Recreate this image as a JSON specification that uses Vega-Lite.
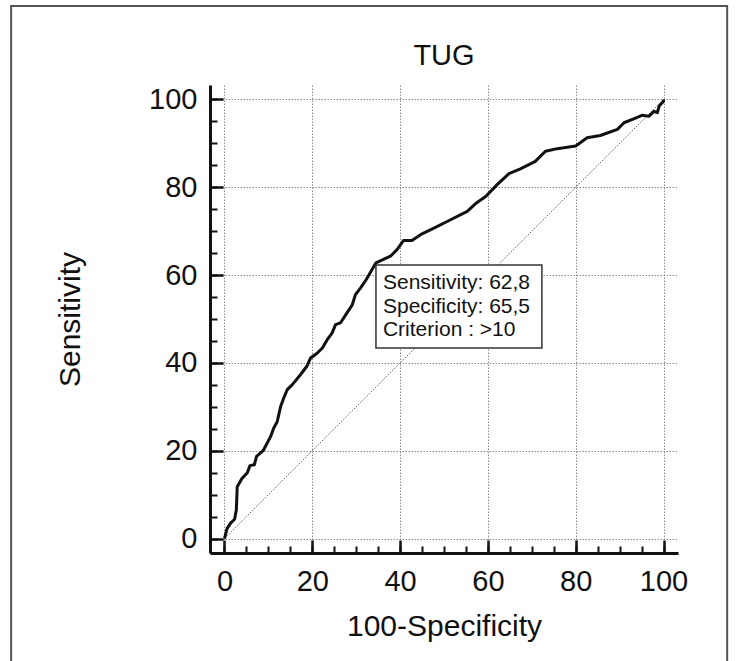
{
  "$schema": "https://vega.github.io/schema/vega-lite/v6.json",
  "width": 468,
  "height": 468,
  "autosize": {"type": "none"},
  "padding": {"left": 210, "top": 85, "right": 61, "bottom": 108},
  "background": "white",
  "title": {"text": "TUG", "fontSize": 29, "font": "Liberation Sans", "fontWeight": "normal", "color": "#111", "offset": -66},
  "config": {"view": {"stroke": null}},
  "datasets": {
    "roc": [
      {"fpr": 0, "tpr": 0}, {"fpr": 0.6, "tpr": 2.3}, {"fpr": 1.4, "tpr": 3.5}, {"fpr": 2.3, "tpr": 4.4},
      {"fpr": 2.7, "tpr": 6.5}, {"fpr": 2.9, "tpr": 11.8}, {"fpr": 4.0, "tpr": 13.7}, {"fpr": 5.2, "tpr": 15.0},
      {"fpr": 5.8, "tpr": 16.6}, {"fpr": 6.8, "tpr": 16.8}, {"fpr": 7.3, "tpr": 18.7}, {"fpr": 8.8, "tpr": 20.0},
      {"fpr": 9.7, "tpr": 21.7}, {"fpr": 10.5, "tpr": 23.2}, {"fpr": 11.2, "tpr": 25.1}, {"fpr": 12.0, "tpr": 26.6},
      {"fpr": 12.8, "tpr": 30.1}, {"fpr": 13.5, "tpr": 32.0}, {"fpr": 14.3, "tpr": 33.9}, {"fpr": 15.4, "tpr": 35.0},
      {"fpr": 17.3, "tpr": 37.3}, {"fpr": 18.8, "tpr": 39.3}, {"fpr": 19.6, "tpr": 41.1}, {"fpr": 21.1, "tpr": 42.2},
      {"fpr": 22.3, "tpr": 43.4}, {"fpr": 23.4, "tpr": 45.3}, {"fpr": 24.5, "tpr": 46.8}, {"fpr": 25.3, "tpr": 48.7},
      {"fpr": 26.4, "tpr": 49.1}, {"fpr": 27.9, "tpr": 51.4}, {"fpr": 29.1, "tpr": 53.2}, {"fpr": 29.8, "tpr": 55.5},
      {"fpr": 31.0, "tpr": 57.1}, {"fpr": 32.3, "tpr": 59.0}, {"fpr": 34.5, "tpr": 62.8}, {"fpr": 37.8, "tpr": 64.3},
      {"fpr": 39.3, "tpr": 65.8}, {"fpr": 40.8, "tpr": 67.9}, {"fpr": 42.7, "tpr": 67.9}, {"fpr": 45.0, "tpr": 69.4},
      {"fpr": 47.7, "tpr": 70.7}, {"fpr": 51.5, "tpr": 72.6}, {"fpr": 55.3, "tpr": 74.5}, {"fpr": 57.2, "tpr": 76.3},
      {"fpr": 59.5, "tpr": 77.9}, {"fpr": 62.1, "tpr": 80.6}, {"fpr": 64.8, "tpr": 83.1}, {"fpr": 67.4, "tpr": 84.2},
      {"fpr": 70.8, "tpr": 85.9}, {"fpr": 73.1, "tpr": 88.2}, {"fpr": 75.8, "tpr": 88.8}, {"fpr": 80.0, "tpr": 89.4},
      {"fpr": 82.6, "tpr": 91.3}, {"fpr": 85.6, "tpr": 91.8}, {"fpr": 89.5, "tpr": 93.2}, {"fpr": 91.0, "tpr": 94.7},
      {"fpr": 93.2, "tpr": 95.6}, {"fpr": 95.1, "tpr": 96.4}, {"fpr": 96.7, "tpr": 96.2}, {"fpr": 97.8, "tpr": 97.3},
      {"fpr": 98.6, "tpr": 97.0}, {"fpr": 99.0, "tpr": 98.5}, {"fpr": 100, "tpr": 99.6}, {"fpr": 100, "tpr": 100}
    ],
    "diag": [{"fpr": 0, "tpr": 0}, {"fpr": 100, "tpr": 100}],
    "note": [{"label": "Sensitivity: 62,8\nSpecificity: 65,5\nCriterion : >10"}]
  },
  "layer": [
    {
      "data": {"values": [{}]},
      "mark": {"type": "rect", "filled": false, "stroke": "#555", "strokeWidth": 2},
      "encoding": {
        "x": {"datum": -48.6, "type": "quantitative", "scale": {"domain": [-3.3, 103.3], "nice": false, "zero": false}, "axis": null},
        "x2": {"datum": 114.5},
        "y": {"datum": 121.3, "type": "quantitative", "scale": {"domain": [-3.3, 103.3], "nice": false, "zero": false}, "axis": null},
        "y2": {"datum": -30}
      }
    },
    {
      "data": {"name": "diag"},
      "mark": {"type": "line", "color": "#666", "strokeWidth": 1, "strokeDash": [1.5, 1.5]},
      "encoding": {
        "x": {"field": "fpr", "type": "quantitative", "scale": {"domain": [-3.3, 103.3], "nice": false, "zero": false},
          "axis": {"orient": "bottom", "values": [0,5,10,15,20,25,30,35,40,45,50,55,60,65,70,75,80,85,90,95,100], "grid": false, "domain": false, "labels": false, "title": null, "tickSize": -7, "tickWidth": 2, "tickColor": "#111"}},
        "y": {"field": "tpr", "type": "quantitative", "scale": {"domain": [-3.3, 103.3], "nice": false, "zero": false},
          "axis": {"orient": "left", "values": [0,5,10,15,20,25,30,35,40,45,50,55,60,65,70,75,80,85,90,95,100], "grid": false, "domain": false, "labels": false, "title": null, "tickSize": -7, "tickWidth": 2, "tickColor": "#111"}}
      }
    },
    {
      "data": {"name": "roc"},
      "mark": {"type": "line", "color": "#111", "strokeWidth": 3, "strokeJoin": "round"},
      "encoding": {
        "x": {"field": "fpr", "type": "quantitative", "scale": {"domain": [-3.3, 103.3], "nice": false, "zero": false},
          "axis": {"orient": "bottom", "values": [0,20,40,60,80,100], "grid": true, "gridColor": "#8a8a8a", "gridDash": [1.5, 1.5], "gridWidth": 1,
            "tickSize": -13, "tickWidth": 2.5, "tickColor": "#111", "domainColor": "#111", "domainWidth": 3,
            "labelFont": "Liberation Sans", "labelFontSize": 29, "labelColor": "#111", "labelPadding": 27, "labelFlush": false, "labelOverlap": false,
            "title": "100-Specificity", "titleFont": "Liberation Sans", "titleFontSize": 30, "titleFontWeight": "normal", "titleColor": "#111", "titlePadding": 15}},
        "y": {"field": "tpr", "type": "quantitative", "scale": {"domain": [-3.3, 103.3], "nice": false, "zero": false},
          "axis": {"orient": "left", "values": [0,20,40,60,80,100], "grid": true, "gridColor": "#8a8a8a", "gridDash": [1.5, 1.5], "gridWidth": 1,
            "tickSize": -13, "tickWidth": 2.5, "tickColor": "#111", "domainColor": "#111", "domainWidth": 3,
            "labelFont": "Liberation Sans", "labelFontSize": 29, "labelColor": "#111", "labelPadding": 26, "labelFlush": false, "labelOverlap": false,
            "title": "Sensitivity", "titleFont": "Liberation Sans", "titleFontSize": 30, "titleFontWeight": "normal", "titleColor": "#111", "titlePadding": 63}}
      }
    },
    {
      "data": {"values": [{}]},
      "mark": {"type": "rect", "fill": "white", "stroke": "#333", "strokeWidth": 1.5},
      "encoding": {
        "x": {"datum": 34.5, "type": "quantitative", "axis": null},
        "x2": {"datum": 72.3},
        "y": {"datum": 62.3, "type": "quantitative", "axis": null},
        "y2": {"datum": 43.4}
      }
    },
    {
      "data": {"name": "note"},
      "mark": {"type": "text", "align": "left", "baseline": "alphabetic", "dx": 7, "dy": 24, "lineBreak": "\n", "lineHeight": 23.5, "font": "Liberation Sans", "fontSize": 21, "color": "#111"},
      "encoding": {
        "x": {"datum": 34.5, "type": "quantitative", "axis": null},
        "y": {"datum": 62.3, "type": "quantitative", "axis": null},
        "text": {"field": "label"}
      }
    }
  ],
  "resolve": {"axis": {"x": "independent", "y": "independent"}}
}
